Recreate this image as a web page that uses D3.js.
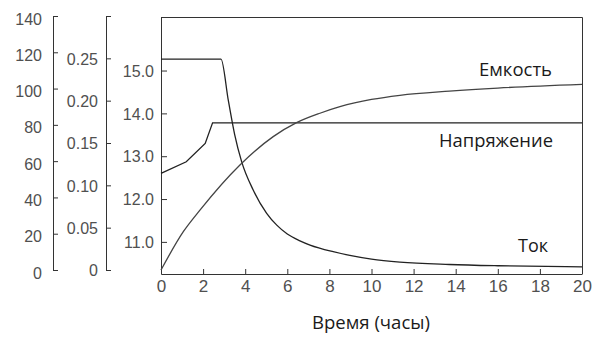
<!DOCTYPE html>
<html>
<head>
<meta charset="utf-8">
<script src="https://cdn.jsdelivr.net/npm/d3@7"></script>
<style>
  body { margin: 0; background: #fff; }
  .tick text { font-family: "Liberation Sans", Arial, sans-serif; fill: #505050; }
  .domain, .tick line { stroke: #333; }
</style>
</head>
<body>
<svg id="chart" width="606" height="338"></svg>
<script>
// tick values
const timeTicks = [0, 2, 4, 6, 8, 10, 12, 14, 16, 18, 20];
const capacityTicks = [0, 20, 40, 60, 80, 100, 120, 140];
const currentTicks = [0, 0.05, 0.10, 0.15, 0.20, 0.25, 0.30];
const voltageTicks = [11, 12, 13, 14, 15];

// series (time in hours)
const voltageTime = [0, 1.2, 2.1, 2.45, 20];
const voltageValues = [12.6, 12.87, 13.3, 13.78, 13.78];

const currentTime = [0, 2.85, 3.2, 3.5, 3.83, 4.38, 5.02, 5.5, 6.0, 6.6, 7.08, 8.18, 8.97, 10, 11.35, 13.7, 16, 20];
const currentValues = [0.249, 0.249, 0.2, 0.16, 0.128, 0.0945, 0.067, 0.053, 0.0425, 0.0345, 0.0295, 0.0216, 0.0172, 0.0128, 0.0093, 0.0065, 0.005, 0.0037];

const capacityTime = [0, 1.06, 1.85, 3.75, 5.33, 6.44, 7.55, 8.5, 10, 11.35, 13.7, 16, 20];
const capacityValues = [0, 21.1, 33, 57.9, 73.5, 81.2, 86.4, 90, 94, 96.3, 98.6, 100.3, 102.3];

const seriesLabels = ['Емкость', 'Напряжение', 'Ток'];
const xTitle = 'Время (часы)';

const svg = d3.select('#chart');

const plot = { left: 161, right: 582, top: 17, bottom: 274 };

const x = d3.scaleLinear().domain([0, 20]).range([plot.left, plot.right]);
const yCapacity = d3.scaleLinear().domain([0, 140]).range([270, 16]);
const yCurrent = d3.scaleLinear().domain([0, 0.30]).range([270, 16]);
const yVoltage = d3.scaleLinear().domain([10.25, 16.25]).range([plot.bottom, plot.top]);

// frame top + right
svg.append('path')
  .attr('d', `M${plot.left},${plot.top + 0.5}H${plot.right + 0.5}V${plot.bottom}`)
  .attr('fill', 'none')
  .attr('stroke', '#333')
  .attr('stroke-width', 1);

// capacity axis
const capAxis = svg.append('g')
  .attr('transform', 'translate(53,0)')
  .call(d3.axisLeft(yCapacity).tickValues(capacityTicks).tickSizeInner(-5).tickSizeOuter(0).tickPadding(11));
capAxis.selectAll('text').style('font-size', '16px').attr('dy', '0.5em');

// current axis
const curAxis = svg.append('g')
  .attr('transform', 'translate(106,0)')
  .call(d3.axisLeft(yCurrent).tickValues(currentTicks).tickSizeInner(-5).tickSizeOuter(0).tickPadding(8)
    .tickFormat(d => d >= 0.3 ? '' : (d === 0 ? '0' : d3.format('.2f')(d))));
curAxis.selectAll('text').style('font-size', '16px').attr('dy', '0.36em');

// voltage axis
const voltAxis = svg.append('g')
  .attr('transform', `translate(${plot.left},0)`)
  .call(d3.axisLeft(yVoltage).tickValues(voltageTicks).tickSizeInner(-6).tickSizeOuter(0).tickPadding(7)
    .tickFormat(d3.format('.1f')));
voltAxis.selectAll('text').style('font-size', '16px').attr('dy', '0.36em');

// time axis
const xAxis = svg.append('g')
  .attr('transform', `translate(0,${plot.bottom})`)
  .call(d3.axisBottom(x).tickValues(timeTicks).tickSizeInner(-5).tickSizeOuter(0).tickPadding(6));
xAxis.selectAll('text').style('font-size', '17px');

svg.selectAll('.domain, .tick line').attr('stroke', '#333');

const mk = (ts, vs) => ts.map((t, i) => [t, vs[i]]);

svg.append('path')
  .datum(mk(voltageTime, voltageValues))
  .attr('fill', 'none').attr('stroke', '#222').attr('stroke-width', 1.3)
  .attr('d', d3.line().x(d => x(d[0])).y(d => yVoltage(d[1])));

svg.append('path')
  .datum(mk(currentTime, currentValues))
  .attr('fill', 'none').attr('stroke', '#222').attr('stroke-width', 1.3)
  .attr('d', d3.line().curve(d3.curveMonotoneX).x(d => x(d[0])).y(d => yCurrent(d[1])));

svg.append('path')
  .datum(mk(capacityTime, capacityValues))
  .attr('fill', 'none').attr('stroke', '#444').attr('stroke-width', 1.3)
  .attr('d', d3.line().curve(d3.curveMonotoneX).x(d => x(d[0])).y(d => yCapacity(d[1])));

// series labels
const labelPos = [[552, 76, 73], [553, 147, 114], [548, 252, 30]];
svg.selectAll('.series-label')
  .data(seriesLabels)
  .enter().append('text')
  .attr('class', 'series-label')
  .attr('x', (d, i) => labelPos[i][0])
  .attr('y', (d, i) => labelPos[i][1])
  .attr('text-anchor', 'end')
  .attr('textLength', (d, i) => labelPos[i][2])
  .attr('lengthAdjust', 'spacingAndGlyphs')
  .style('font-family', '"Open Sans", "Noto Sans", sans-serif')
  .style('font-size', '19px')
  .style('fill', '#1a1a1a')
  .text(d => d);

svg.append('text')
  .attr('x', 371)
  .attr('y', 329)
  .attr('text-anchor', 'middle')
  .attr('textLength', 118)
  .attr('lengthAdjust', 'spacingAndGlyphs')
  .style('font-family', '"Open Sans", "Noto Sans", sans-serif')
  .style('font-size', '19px')
  .style('fill', '#1a1a1a')
  .text(xTitle);
</script>
</body>
</html>
